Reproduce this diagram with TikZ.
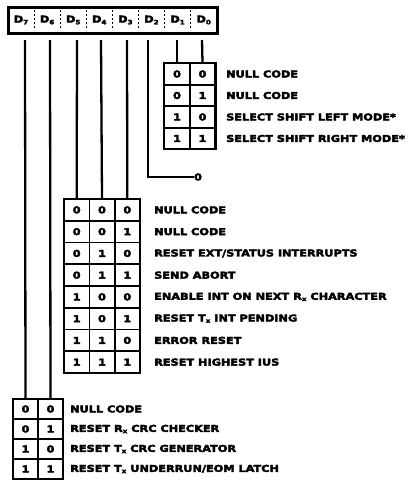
\documentclass[tikz,border=0pt]{standalone}
\usepackage{fontspec}
\newfontfamily\lbl{DejaVu Sans}[UprightFont=* Bold, FakeStretch=1.2, FakeBold=4]
\newcommand{\lowx}[1]{#1\raisebox{-0.25ex}{\fontsize{6}{6}\selectfont x}}
\newcommand{\regbit}[1]{D\raisebox{-0.35ex}{\fontsize{6}{6}\selectfont #1}}
\begin{document}
\begin{tikzpicture}[x=1pt,y=-1pt,
  every node/.style={font=\lbl\fontsize{9.4}{10}\selectfont, inner sep=0pt},
  wire/.style={line width=2.3pt},
  regcell/.style={minimum width=26.1pt, minimum height=24pt, anchor=center},
  cell/.style={draw, line width=1.7pt, minimum width=25.3pt, minimum height=21.7pt, anchor=center},
  bcell/.style={draw, line width=1.7pt, minimum width=25pt, minimum height=20pt, anchor=center},
  tcell/.style={draw, line width=1.7pt, minimum width=25.5pt, minimum height=21.5pt, anchor=center},
  outline/.style={line width=2.4pt},
  lab/.style={anchor=west}]
\useasboundingbox (0,0) rectangle (413,491);

% command register D7..D0
\draw[line width=3pt] (8,7) rectangle (217,33);
\foreach \k in {1,...,7}
  \draw[line width=0.6pt, dash pattern=on 2pt off 2pt] (8+26.1*\k,10) -- (8+26.1*\k,30);
\foreach \b [count=\i from 0] in {7,6,5,4,3,2,1,0}
  \node[regcell] (r\b) at (21+26.1*\i,20) {\regbit{\b}};

% wire starting points under the register
\coordinate (b7) at (25,40);
\coordinate (b6) at (50,40);
\coordinate (b5) at (77,40);
\coordinate (b4) at (101,40);
\coordinate (b3) at (127,40);
\coordinate (b2) at (148,40);
\coordinate (b1) at (177,40);
\coordinate (b0) at (202,40);

% D1 D0 table
\foreach \r/\a/\c/\t [count=\i from 0] in {
  0/0/0/{NULL CODE},
  1/0/1/{NULL CODE},
  2/1/0/{SELECT SHIFT LEFT MODE*},
  3/1/1/{SELECT SHIFT RIGHT MODE*}} {
  \node[tcell] (ta\r) at (177,74+21.5*\i) {\a};
  \node[tcell] (tb\r) at (202.5,74+21.5*\i) {\c};
  \node[lab] (tl\r) at (226,74+21.5*\i) {\t};
}
\draw[outline] (164.2,63.2) rectangle (215.3,148.8);

% D5 D4 D3 table
\foreach \r/\a/\b/\c/\t [count=\i from 0] in {
  0/0/0/0/{NULL CODE},
  1/0/0/1/{NULL CODE},
  2/0/1/0/{RESET EXT/STATUS INTERRUPTS},
  3/0/1/1/{SEND ABORT},
  4/1/0/0/{ENABLE INT ON NEXT \lowx{R} CHARACTER},
  5/1/0/1/{RESET \lowx{T} INT PENDING},
  6/1/1/0/{ERROR RESET},
  7/1/1/1/{RESET HIGHEST IUS}} {
  \node[cell] (ma\r) at (76.7,209.9+21.75*\i) {\a};
  \node[cell] (mb\r) at (102,209.9+21.75*\i) {\b};
  \node[cell] (mc\r) at (127.3,209.9+21.75*\i) {\c};
  \node[lab] (ml\r) at (154,209.9+21.75*\i) {\t};
}
\draw[outline] (64,199) rectangle (140,373);

% D7 D6 table
\foreach \r/\a/\c/\t [count=\i from 0] in {
  0/0/0/{NULL CODE},
  1/0/1/{RESET \lowx{R} CRC CHECKER},
  2/1/0/{RESET \lowx{T} CRC GENERATOR},
  3/1/1/{RESET \lowx{T} UNDERRUN/EOM LATCH}} {
  \node[bcell] (ba\r) at (25.5,409+20*\i) {\a};
  \node[bcell] (bb\r) at (50.5,409+20*\i) {\c};
  \node[lab] (bl\r) at (70,409+20*\i) {\t};
}
\draw[outline] (13,399) rectangle (63,479);

% wires from register bits to their tables
\draw[wire] (b7) -- (ba0.north);
\draw[wire] (b6) -- (bb0.north);
\draw[wire] (b5) -- (ma0.north);
\draw[wire] (b4) -- (mb0.north);
\draw[wire] (b3) -- (mc0.north);
\draw[wire] (b1) -- (ta0.north);
\draw[wire] (b0) -- (tb0.north);
\node (z) at (198,177) {0};
\draw[wire] (b2) |- (z.west);
\end{tikzpicture}
\end{document}
